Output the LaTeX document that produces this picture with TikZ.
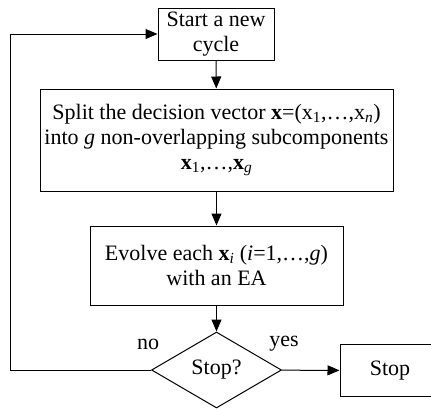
\documentclass[tikz,border=0pt]{standalone}
\usepackage{fontspec}
\setmainfont{Liberation Serif}
\usetikzlibrary{shapes.geometric, arrows.meta, positioning, calc}

\begin{document}
\begin{tikzpicture}[x=1pt, y=-1pt, line width=1pt, >={Triangle[length=12pt,width=10pt]},
  font=\fontsize{22}{25}\selectfont,
  stepbox/.style={draw, rectangle, align=center, inner sep=0pt},
  decision/.style={draw, diamond, aspect=1.71, inner sep=0pt, minimum width=130pt, minimum height=76pt}]
\useasboundingbox (0,0) rectangle (431,408);

% Blocks of the cycle
\node[stepbox, minimum width=116pt, minimum height=52pt] (start) at (216,34) {Start a new\\cycle};
\node[stepbox, minimum width=353pt, minimum height=102pt] (split) at (216.5,140)
  {Split the decision vector \textbf{x}=(x\textsubscript{1},…,x\textsubscript{\textit{n}})\\
   into \textit{g} non-overlapping subcomponents\\
   \textbf{x}\textsubscript{1},…,\textbf{x}\textsubscript{\textit{g}}};
\node[stepbox, minimum width=253pt, minimum height=79pt] (evolve) at (216.5,265.5)
  {Evolve each \textbf{x}\textsubscript{\textit{i}} (\textit{i}=1,…,\textit{g})\\with an EA};
\node[decision] (stop?) at (216.5,370) {Stop?};
\node[stepbox, minimum width=100pt, minimum height=52pt] (stop) at (390,370.5) {Stop};

% Labels of the decision
\node (no) at (148,344) {no};
\node (yes) at (284,344) {yes};

% Connectors
\coordinate (back) at (10,370);
\draw[->] (start) -- (split);
\draw[->] (split) -- (evolve);
\draw[->] (evolve) -- (stop?);
\draw[->] (stop?) -- (stop);
\draw[->] (stop?.west) -- (back) |- (start.west);
\end{tikzpicture}
\end{document}
